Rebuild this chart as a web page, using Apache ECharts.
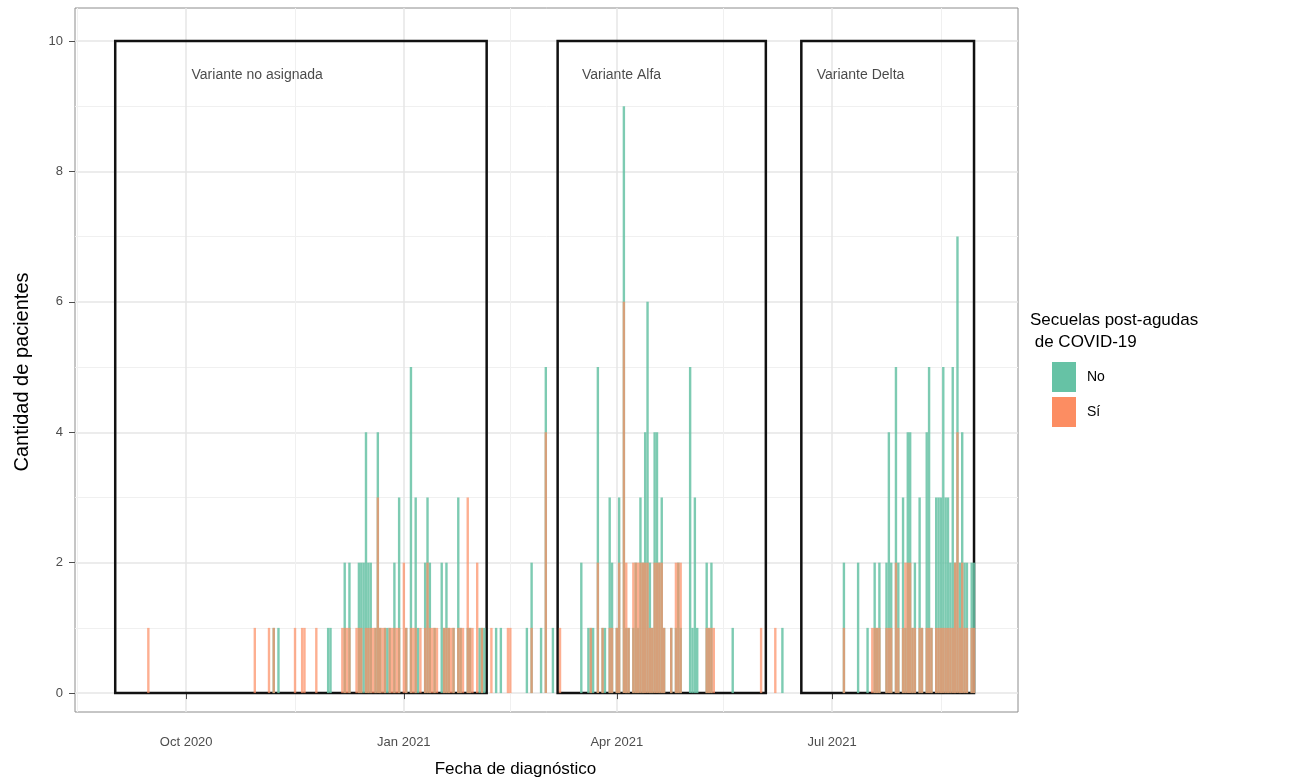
<!DOCTYPE html>
<html>
<head>
<meta charset="utf-8">
<script src="https://cdn.jsdelivr.net/npm/echarts@6/dist/echarts.min.js"></script>
<style>
  html, body { margin: 0; padding: 0; background: #fff; }
  #grafico { width: 1298px; height: 779px; }
</style>
</head>
<body>
<div id="grafico"></div>
<script>
// pacientes por fecha de diagnóstico
const fechas = [
  '2020-09-15', '2020-10-30', '2020-11-05', '2020-11-07', '2020-11-09', '2020-11-16', '2020-11-19', '2020-11-20',
  '2020-11-25', '2020-11-30', '2020-12-01', '2020-12-06', '2020-12-07', '2020-12-08', '2020-12-09', '2020-12-12',
  '2020-12-13', '2020-12-14', '2020-12-15', '2020-12-16', '2020-12-17', '2020-12-18', '2020-12-19', '2020-12-20',
  '2020-12-21', '2020-12-22', '2020-12-23', '2020-12-24', '2020-12-25', '2020-12-26', '2020-12-27', '2020-12-28',
  '2020-12-29', '2020-12-30', '2021-01-01', '2021-01-02', '2021-01-04', '2021-01-05', '2021-01-06', '2021-01-07',
  '2021-01-08', '2021-01-10', '2021-01-11', '2021-01-12', '2021-01-13', '2021-01-14', '2021-01-15', '2021-01-17',
  '2021-01-18', '2021-01-19', '2021-01-20', '2021-01-21', '2021-01-22', '2021-01-24', '2021-01-25', '2021-01-26',
  '2021-01-28', '2021-01-29', '2021-01-30', '2021-02-01', '2021-02-02', '2021-02-03', '2021-02-04', '2021-02-07',
  '2021-02-09', '2021-02-11', '2021-02-14', '2021-02-15', '2021-02-22', '2021-02-24', '2021-02-28', '2021-03-02',
  '2021-03-05', '2021-03-08', '2021-03-17', '2021-03-20', '2021-03-21', '2021-03-22', '2021-03-24', '2021-03-26',
  '2021-03-27', '2021-03-29', '2021-03-30', '2021-04-01', '2021-04-02', '2021-04-04', '2021-04-05', '2021-04-06',
  '2021-04-08', '2021-04-09', '2021-04-10', '2021-04-11', '2021-04-12', '2021-04-13', '2021-04-14', '2021-04-15',
  '2021-04-16', '2021-04-17', '2021-04-18', '2021-04-19', '2021-04-20', '2021-04-21', '2021-04-24', '2021-04-26',
  '2021-04-27', '2021-04-28', '2021-05-02', '2021-05-03', '2021-05-04', '2021-05-05', '2021-05-09', '2021-05-10',
  '2021-05-11', '2021-05-12', '2021-05-20', '2021-06-01', '2021-06-07', '2021-06-10',
  '2021-07-06', '2021-07-12', '2021-07-16', '2021-07-18', '2021-07-19', '2021-07-20', '2021-07-21', '2021-07-24',
  '2021-07-25', '2021-07-26', '2021-07-28', '2021-07-29', '2021-07-31', '2021-08-01', '2021-08-02', '2021-08-03',
  '2021-08-04', '2021-08-05', '2021-08-07', '2021-08-08', '2021-08-10', '2021-08-11', '2021-08-12', '2021-08-14',
  '2021-08-15', '2021-08-16', '2021-08-17', '2021-08-18', '2021-08-19', '2021-08-20', '2021-08-21', '2021-08-22',
  '2021-08-23', '2021-08-24', '2021-08-25', '2021-08-26', '2021-08-27', '2021-08-29', '2021-08-30'
];
const pacientesNo = [
  0, 0, 0, 1, 1, 0, 0, 0,
  0, 1, 1, 0, 2, 0, 2, 0,
  2, 2, 2, 4, 2, 2, 0, 1,
  4, 1, 0, 1, 1, 1, 0, 2,
  0, 3, 0, 1, 5, 0, 3, 1,
  0, 2, 3, 2, 0, 1, 0, 2,
  1, 2, 1, 0, 1, 3, 1, 0,
  1, 1, 0, 0, 1, 1, 1, 0,
  1, 1, 0, 0, 1, 2, 1, 5,
  1, 0, 2, 1, 1, 1, 5, 1,
  1, 3, 2, 1, 3, 9, 1, 1,
  1, 2, 1, 3, 2, 4, 6, 2,
  1, 4, 4, 2, 3, 1, 1, 1,
  2, 1, 5, 1, 3, 1, 2, 1,
  2, 0, 1, 0, 0, 1,
  2, 2, 1, 0, 2, 1, 2, 2,
  4, 2, 5, 2, 3, 1, 4, 4,
  1, 2, 3, 1, 4, 5, 1, 3,
  3, 3, 5, 3, 3, 2, 5, 2,
  7, 2, 4, 2, 2, 2, 2
];
const pacientesSi = [
  1, 1, 1, 1, 0, 1, 1, 1,
  1, 0, 0, 1, 1, 1, 1, 1,
  1, 1, 0, 1, 1, 1, 1, 1,
  3, 1, 1, 1, 0, 1, 1, 1,
  1, 1, 2, 1, 1, 1, 1, 0,
  1, 1, 2, 1, 1, 1, 1, 0,
  1, 1, 1, 1, 1, 1, 1, 1,
  3, 1, 1, 2, 0, 1, 0, 1,
  0, 0, 1, 1, 0, 1, 0, 4,
  0, 1, 0, 0, 1, 0, 2, 1,
  0, 1, 1, 1, 2, 6, 2, 1,
  2, 2, 2, 2, 2, 2, 2, 1,
  1, 2, 2, 2, 2, 1, 1, 2,
  2, 2, 0, 0, 0, 0, 1, 1,
  1, 1, 0, 1, 1, 0,
  1, 0, 0, 1, 1, 1, 1, 1,
  1, 1, 2, 1, 1, 2, 2, 2,
  1, 1, 1, 1, 1, 1, 1, 1,
  1, 1, 1, 1, 1, 1, 1, 2,
  4, 1, 2, 1, 1, 1, 1
];

// periodos de cada variante (recuadros)
const variantes = ['Variante no asignada', 'Variante Alfa', 'Variante Delta'];
const inicioVariante = ['2020-09-01', '2021-03-07', '2021-06-18'];
const finVariante = ['2021-02-05', '2021-06-03', '2021-08-30'];
const fechaEtiqueta = ['2020-10-31', '2021-04-03', '2021-07-13'];
const alturaEtiqueta = 9.47;
const alturaRecuadro = 10;

// ejes
const marcasFecha = ['2020-10-01', '2021-01-01', '2021-04-01', '2021-07-01'];
const marcasFechaMenores = ['2020-08-16', '2020-11-16', '2021-02-15', '2021-05-16', '2021-08-16'];
const marcasY = [0, 2, 4, 6, 8, 10];
const marcasYMenores = [1, 3, 5, 7, 9];
const meses = ['Jan', 'Feb', 'Mar', 'Apr', 'May', 'Jun', 'Jul', 'Aug', 'Sep', 'Oct', 'Nov', 'Dec'];

const fuente = '"Liberation Sans", Arial, Helvetica, sans-serif';
// fecha local -> milisegundos
const t = s => { const p = s.split('-').map(Number); return new Date(p[0], p[1] - 1, p[2]).getTime(); };

const serieNo = fechas.map((f, i) => [t(f), pacientesNo[i]]).filter(d => d[1] > 0);
const serieSi = fechas.map((f, i) => [t(f), pacientesSi[i]]).filter(d => d[1] > 0);

const chart = echarts.init(document.getElementById('grafico'));

const xMin = t('2020-08-15');
const xMax = t('2021-09-17') + 14 * 3600 * 1000;

const option = {
  animation: false,
  backgroundColor: '#fff',
  textStyle: { fontFamily: fuente },
  title: {
    text: 'Secuelas post-agudas\n de COVID-19',
    left: 1025,
    top: 304,
    textStyle: { fontSize: 17, fontWeight: 'normal', color: '#000', lineHeight: 22, fontFamily: fuente }
  },
  legend: {
    orient: 'vertical',
    left: 1047,
    top: 357,
    itemWidth: 24,
    itemHeight: 30,
    itemGap: 5,
    icon: 'rect',
    itemStyle: { opacity: 1 },
    textStyle: { fontSize: 14, color: '#000', fontFamily: fuente, padding: [0, 0, 0, 6] },
    data: ['No', 'Sí']
  },
  grid: {
    left: 75,
    top: 8,
    width: 943,
    height: 704,
    outerBoundsMode: 'none',
    show: true,
    backgroundColor: '#fff',
    borderColor: '#8c8c8c',
    borderWidth: 1
  },
  xAxis: [
    {
      type: 'value',
      min: xMin,
      max: xMax,
      name: 'Fecha de diagnóstico',
      nameLocation: 'middle',
      nameGap: 49,
      nameTextStyle: { fontSize: 17, color: '#000', padding: [0, 62, 0, 0] },
      axisLine: { show: false },
      axisTick: { show: true, length: 6, lineStyle: { color: '#4d4d4d' }, customValues: marcasFecha.map(t) },
      axisLabel: {
        customValues: marcasFecha.map(t),
        color: '#4d4d4d',
        fontSize: 13,
        margin: 24,
        formatter: v => { const d = new Date(v); return meses[d.getMonth()] + ' ' + d.getFullYear(); }
      },
      splitLine: { show: true, lineStyle: { color: '#e6e6e6', width: 1.5 } }
    },
    {
      type: 'value',
      min: xMin,
      max: xMax,
      position: 'top',
      axisLine: { show: false },
      axisTick: { show: false, customValues: marcasFechaMenores.map(t) },
      axisLabel: { show: false, customValues: marcasFechaMenores.map(t) },
      splitLine: { show: true, lineStyle: { color: '#f0f0f0', width: 1 } }
    }
  ],
  yAxis: [
    {
      type: 'value',
      min: -0.29,
      max: 10.506,
      name: 'Cantidad de pacientes',
      nameLocation: 'middle',
      nameGap: 43,
      nameTextStyle: { fontSize: 20, color: '#000', padding: [0, 24, 0, 0] },
      axisLine: { show: false },
      axisTick: { show: true, length: 6, lineStyle: { color: '#4d4d4d' }, customValues: marcasY },
      axisLabel: { customValues: marcasY, color: '#4d4d4d', fontSize: 13, margin: 12 },
      splitLine: { show: true, lineStyle: { color: '#e6e6e6', width: 1.5 } }
    },
    {
      type: 'value',
      min: -0.29,
      max: 10.506,
      position: 'right',
      axisLine: { show: false },
      axisTick: { show: false, customValues: marcasYMenores },
      axisLabel: { show: false, customValues: marcasYMenores },
      splitLine: { show: true, lineStyle: { color: '#f0f0f0', width: 1 } }
    }
  ],
  series: [
    {
      name: 'No',
      type: 'bar',
      data: serieNo,
      barWidth: 2.4,
      barGap: '-100%',
      itemStyle: { color: '#66c2a5', opacity: 0.85 },
      z: 2
    },
    {
      name: 'Sí',
      type: 'bar',
      data: serieSi,
      barWidth: 2.4,
      barGap: '-100%',
      itemStyle: { color: '#fc8d62', opacity: 0.7 },
      z: 3
    },
    {
      name: 'variantes',
      type: 'scatter',
      symbolSize: 0,
      z: 10,
      silent: true,
      data: variantes.map((v, i) => [t(fechaEtiqueta[i]), alturaEtiqueta, v]),
      label: {
        show: true,
        position: 'inside',
        formatter: p => p.value[2],
        fontSize: 14,
        color: '#1a1a1a',
        fontFamily: fuente
      },
      markArea: {
        silent: true,
        itemStyle: { color: 'rgba(0,0,0,0)', borderColor: '#111', borderWidth: 2.5 },
        data: variantes.map((v, i) => [
          { xAxis: t(inicioVariante[i]), yAxis: 0 },
          { xAxis: t(finVariante[i]), yAxis: alturaRecuadro }
        ])
      }
    }
  ]
};

chart.setOption(option);
</script>
</body>
</html>
